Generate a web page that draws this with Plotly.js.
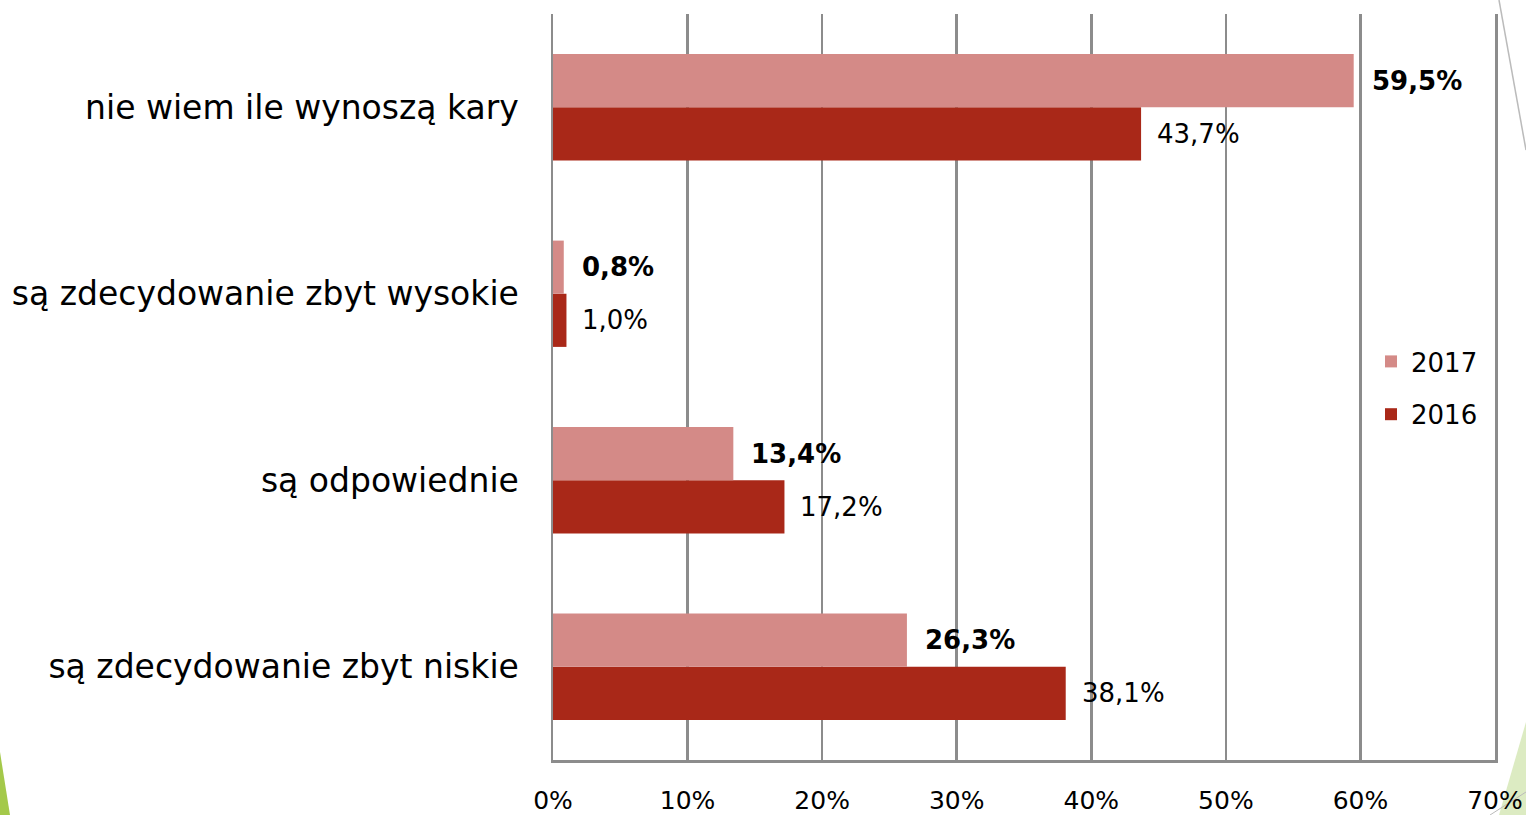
<!DOCTYPE html>
<html>
<head>
<meta charset="utf-8">
<script src="https://cdn.plot.ly/plotly-3.0.1.min.js"></script>
<style>
html,body{margin:0;padding:0;background:#fff;}
#chart{width:1526px;height:815px;}
</style>
</head>
<body>
<div id="chart"></div>
<script>
// Data (categories listed top to bottom, as shown)
const categories = [
  "nie wiem ile wynoszą kary",
  "są zdecydowanie zbyt wysokie",
  "są odpowiednie",
  "są zdecydowanie zbyt niskie"
];
const values2017 = [59.5, 0.8, 13.4, 26.3];
const values2016 = [43.7, 1.0, 17.2, 38.1];
const seriesNames = ["2017", "2016"];
const xTickVals = [0, 10, 20, 30, 40, 50, 60, 70];
const xTickText = ["0%", "10%", "20%", "30%", "40%", "50%", "60%", "70%"];

const FONT = "DejaVu Sans, Verdana, sans-serif";
const fmt = v => v.toFixed(1).replace(".", ",") + "%";

const L = 553, R = 31, T = 14, B = 55, W = 1526, H = 815;
const pw = W - L - R, ph = H - T - B;
const px = x => (x - L) / pw;
const py = y => (H - B - y) / ph;

const traces = [
  {
    type: "bar", orientation: "h", name: seriesNames[1],
    y: categories, x: values2016, legendgroup: "g2016", legendrank: 2,
    marker: {color: "#A92818"},
    hoverinfo: "x+y"
  },
  {
    type: "bar", orientation: "h", name: seriesNames[0],
    y: categories, x: values2017, legendgroup: "g2017", legendrank: 1,
    marker: {color: "#D48A87"},
    hoverinfo: "x+y"
  }
];

const annotations = [];
categories.forEach((c, i) => {
  annotations.push({
    x: values2017[i], y: c, xref: "x", yref: "y",
    text: "<b>" + fmt(values2017[i]) + "</b>",
    showarrow: false, xanchor: "left", yanchor: "middle",
    xshift: 16, yshift: 26.5,
    font: {family: FONT, size: 26, color: "#000"}
  });
  annotations.push({
    x: values2016[i], y: c, xref: "x", yref: "y",
    text: fmt(values2016[i]),
    showarrow: false, xanchor: "left", yanchor: "middle",
    xshift: 14, yshift: -26.5,
    font: {family: FONT, size: 26, color: "#000"}
  });
});

const shapes = [
  // slide decorations
  {type: "path", xref: "paper", yref: "paper",
   path: `M ${px(0)} ${py(752)} L ${px(10)} ${py(815)} L ${px(0)} ${py(815)} Z`,
   fillcolor: "#A4C94A", line: {width: 0}, layer: "below"},
  {type: "path", xref: "paper", yref: "paper",
   path: `M ${px(1526)} ${py(722)} L ${px(1526)} ${py(815)} L ${px(1499)} ${py(815)} Z`,
   fillcolor: "#DCEBC2", line: {width: 0}, layer: "below"},
  {type: "line", xref: "paper", yref: "paper",
   x0: px(1499), y0: py(0), x1: px(1526), y1: py(150),
   line: {color: "#BBBBBB", width: 1.5}, layer: "below"},
  {type: "line", xref: "paper", yref: "paper",
   x0: px(1490), y0: py(815), x1: px(1526), y1: py(792),
   line: {color: "#BBBBBB", width: 1}, layer: "below"}
];

const layout = {
  width: W, height: H,
  margin: {l: L, r: R, t: T, b: B, pad: 0},
  paper_bgcolor: "#fff", plot_bgcolor: "rgba(0,0,0,0)",
  barmode: "group", bargap: 0.43, bargroupgap: 0,
  showlegend: true,
  legend: {
    x: px(1371), y: py(338), xanchor: "left", yanchor: "top",
    traceorder: "grouped",
    font: {family: FONT, size: 26, color: "#000"},
    bgcolor: "rgba(0,0,0,0)", itemwidth: 30, tracegroupgap: 16
  },
  xaxis: {
    range: [0, 70], tickvals: xTickVals, ticktext: xTickText,
    showgrid: true, gridcolor: "#8C8C8C", gridwidth: 2.5,
    showline: true, linecolor: "#8C8C8C", linewidth: 2.5,
    zeroline: false, ticks: "outside", ticklen: 16, tickcolor: "rgba(0,0,0,0)",
    tickfont: {family: FONT, size: 25, color: "#000"},
    fixedrange: true
  },
  yaxis: {
    type: "category", categoryorder: "array",
    categoryarray: categories.slice().reverse(),
    showgrid: false, showline: true, mirror: true,
    linecolor: "#8C8C8C", linewidth: 2.5,
    ticks: "outside", ticklen: 25, tickcolor: "rgba(0,0,0,0)",
    tickfont: {family: FONT, size: 33, color: "#000"},
    fixedrange: true
  },
  annotations: annotations,
  shapes: shapes,
  font: {family: FONT}
};

Plotly.newPlot("chart", traces, layout, {displayModeBar: false, staticPlot: true});
</script>
</body>
</html>
